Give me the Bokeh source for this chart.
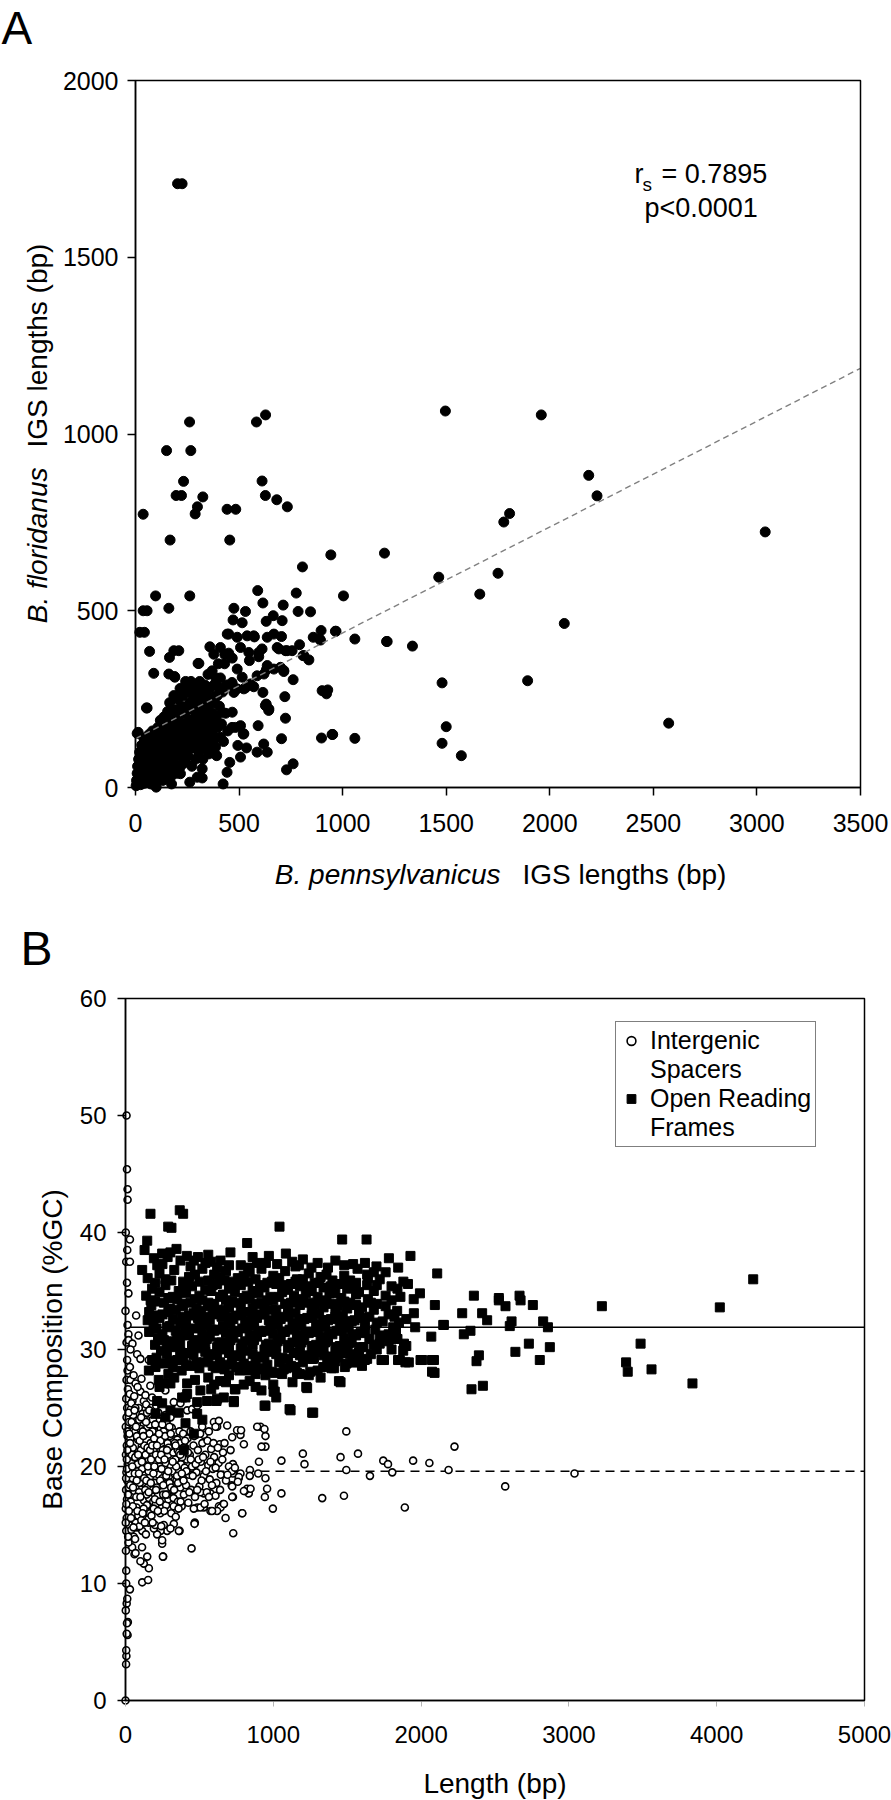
import math
from bokeh.plotting import figure
from bokeh.models import (Range1d, Label, Legend, LegendItem, FixedTicker, ColumnDataSource,
                          LinearAxis, BoxAnnotation)
from bokeh.layouts import column
from bokeh.embed import file_html
from bokeh.resources import INLINE

FONT = "Liberation Sans"

# ---------------- Panel A: IGS lengths (x = B. pennsylvanicus, y = B. floridanus), bp
igs_sparse = [
    (203, 1708), (225, 1708), (261, 1034), (584, 1034), (628, 1054), (1496, 1065), (1959, 1054),
    (150, 953), (267, 953), (232, 866), (196, 826), (222, 826), (325, 822), (299, 794), (288, 774), (37, 773),
    (442, 787), (484, 787), (611, 867), (627, 826), (682, 814), (733, 794),
    (167, 700), (455, 700), (806, 624), (943, 658), (1202, 663), (1464, 595),
    (97, 542), (262, 542), (590, 557), (776, 550), (1004, 542),
    (37, 500), (56, 500), (21, 439), (43, 439), (68, 385), (161, 507), (164, 368), (185, 387), (209, 387),
    (88, 323), (161, 321), (188, 314), (56, 225), (13, 156),
    (306, 351), (257, 277), (227, 277),
    (475, 507), (531, 498), (471, 474), (515, 466), (450, 434), (491, 425), (539, 429), (571, 429),
    (359, 398), (410, 396), (378, 377), (507, 396), (547, 382), (595, 382),
    (615, 522), (631, 470), (665, 486), (708, 472), (713, 516), (636, 425), (668, 434), (705, 427),
    (692, 392), (732, 387), (756, 387),
    (785, 498), (845, 497), (792, 404), (809, 373), (837, 361), (858, 425), (896, 444), (889, 420), (965, 442),
    (1059, 420), (1215, 413), (1337, 400), (1480, 296), (1500, 172), (1480, 125),
    (898, 140), (952, 150), (1059, 139), (901, 274), (922, 265), (928, 276),
    (721, 257), (761, 305), (724, 196), (705, 138), (729, 50), (761, 67),
    (615, 269), (631, 236), (644, 222), (592, 175), (619, 123), (636, 100), (587, 100), (507, 86), (536, 112),
    (483, 170), (520, 151), (494, 119),
    (455, 71), (442, 43), (423, 10), (322, 27), (262, 15), (174, 10), (169, 29), (100, 1),
    (467, 213), (418, 213), (378, 255), (402, 283), (466, 293), (475, 269), (523, 279), (555, 293), (587, 316),
    (636, 345), (668, 335), (620, 321), (700, 340), (716, 328), (515, 312), (491, 335),
    (2188, 883), (2228, 825), (1806, 775), (1778, 751), (1750, 606), (1662, 547), (2070, 464), (1893, 302),
    (2574, 182), (3040, 723), (1573, 90),
    (443, 434), (574, 426), (684, 396), (724, 387), (813, 373), (893, 417), (968, 442), (1212, 413),
    (431, 376), (467, 366), (550, 359), (611, 392), (595, 370), (632, 333), (716, 331), (571, 285), (531, 282),
    (490, 279), (466, 297), (643, 218), (627, 232), (949, 150), (523, 152), (507, 175), (466, 170), (410, 142),
    (370, 156), (386, 114), (330, 123), (354, 95), (322, 53), (298, 29), (241, 72), (217, 39), (169, 67),
    (121, 39), (72, 20), (40, 29), (8, 10), (53, 225), (8, 153), (190, 312), (302, 351),
]
igs_dense = [
    (3, 5), (5, 20), (8, 40), (10, 60), (12, 15), (15, 80), (18, 30), (20, 100), (22, 50), (25, 8),
    (28, 70), (30, 120), (32, 25), (35, 90), (38, 45), (40, 140), (42, 12), (45, 60), (48, 105), (50, 35),
    (52, 80), (55, 130), (58, 20), (60, 55), (62, 100), (65, 150), (68, 40), (70, 75), (72, 115), (75, 10),
    (78, 60), (80, 95), (82, 160), (85, 30), (88, 130), (90, 70), (92, 45), (95, 110), (98, 85), (100, 140),
    (102, 20), (105, 60), (108, 170), (110, 95), (112, 40), (115, 125), (118, 75), (120, 190), (122, 105), (125, 50),
    (128, 150), (130, 85), (132, 20), (135, 120), (138, 200), (140, 65), (142, 100), (145, 170), (148, 40), (150, 135),
    (152, 90), (155, 215), (158, 60), (160, 150), (162, 115), (165, 240), (168, 80), (170, 180), (172, 130), (175, 50),
    (178, 200), (180, 100), (182, 160), (185, 260), (188, 70), (190, 140), (192, 220), (195, 110), (198, 40), (200, 180),
    (202, 250), (205, 130), (208, 90), (210, 200), (212, 160), (215, 280), (218, 60), (220, 120), (222, 230), (225, 170),
    (228, 100), (230, 260), (232, 140), (235, 70), (238, 210), (240, 180), (242, 300), (245, 120), (248, 150), (250, 230),
    (252, 90), (255, 270), (258, 190), (260, 140), (262, 240), (265, 110), (268, 300), (270, 170), (272, 60), (275, 220),
    (278, 260), (280, 150), (282, 195), (285, 120), (288, 240), (290, 80), (292, 280), (295, 170), (298, 210), (300, 140),
    (302, 250), (305, 100), (308, 190), (310, 300), (312, 150), (315, 230), (318, 120), (320, 270), (322, 200), (325, 80),
    (328, 170), (330, 240), (332, 140), (335, 290), (338, 210), (340, 110), (342, 180), (345, 260), (348, 150), (350, 320),
    (352, 230), (355, 130), (358, 280), (360, 190), (362, 100), (365, 250), (368, 160), (370, 330), (372, 210), (375, 120),
    (378, 290), (380, 180), (382, 240), (385, 140), (388, 310), (390, 200), (392, 90), (395, 260), (398, 170), (400, 350),
    (405, 230), (410, 310), (415, 180), (420, 270), (425, 130), (430, 350), (435, 210), (440, 290), (445, 160), (450, 380),
]
igs_fit_intercept = 138.0
igs_fit_slope = 0.2994
rs_text = "= 0.7895"
p_text = "p<0.0001"
a_xticks = [0, 500, 1000, 1500, 2000, 2500, 3000, 3500]
a_yticks = [0, 500, 1000, 1500, 2000]

# ---------------- Panel B: base composition (%GC) vs length (bp)
spacer_sparse = [
    (0, 0), (4, 3.1), (6, 3.8), (5, 4.3), (14, 5.6), (8, 5.7), (16, 6.7), (10, 6.6), (2, 7.7), (8, 8.3),
    (12, 8.7), (30, 9.5), (5, 10.0), (5, 11.1), (7, 50.0), (10, 45.4), (14, 43.7), (14, 42.8), (2, 40.0),
    (30, 39.4), (12, 38.5), (5, 37.5), (30, 37.5), (10, 35.7), (20, 34.8), (0, 33.3), (72, 32.9), (14, 32.1),
    (20, 31.3), (88, 31.2), (7, 30.6), (20, 30.8), (47, 30.5), (34, 30.0), (79, 29.6), (101, 29.2), (214, 29.2),
    (158, 29.1), (11, 29.1), (14, 28.2), (30, 28.5), (7, 27.4), (34, 27.4), (68, 27.1), (101, 26.4), (124, 25.6),
    (135, 26.1), (180, 25.9), (225, 25.6), (270, 26.5), (327, 25.5), (372, 25.4), (417, 24.8), (451, 24.9), (485, 25.2),
    (113, 10.1), (153, 10.3), (158, 11.3), (124, 11.7), (147, 12.3), (255, 12.3), (248, 13.4), (248, 13.7),
    (447, 13.0), (729, 14.3), (677, 15.6), (789, 16.0), (997, 16.4), (1331, 17.3), (1478, 17.5), (1890, 16.5),
    (1055, 17.7), (943, 17.4), (958, 18.1), (947, 19.0), (898, 19.4), (842, 19.7), (903, 20.4), (1055, 20.5),
    (1200, 21.1), (1211, 20.2), (1455, 20.8), (1494, 19.7), (1573, 21.1), (1654, 19.2), (1744, 20.5), (1776, 20.2),
    (1805, 19.5), (1946, 20.5), (2056, 20.3), (1494, 23.0), (947, 21.7), (947, 22.6), (913, 23.4), (940, 23.2),
    (801, 21.9), (778, 22.7), (755, 23.1), (688, 23.5), (638, 21.9), (620, 23.4), (519, 23.4), (530, 22.7),
    (564, 23.0), (598, 23.8), (632, 23.9), (711, 21.4), (727, 20.2), (727, 19.4), (718, 18.4), (727, 17.4),
    (778, 19.4), (766, 19.0), (834, 17.7), (807, 17.9), (575, 17.7), (609, 17.5), (598, 18.5), (530, 17.7),
    (530, 16.5), (486, 16.5), (575, 16.2), (632, 16.6), (661, 16.8), (469, 15.2), (366, 14.5), (327, 15.1),
    (282, 14.5), (237, 14.5), (214, 14.2), (192, 14.7), (158, 15.2), (113, 14.5), (79, 14.8), (56, 14.0),
    (45, 13.1), (61, 12.5), (101, 11.9), (68, 12.6), (2226, 21.7), (2186, 19.7), (2569, 18.3), (3038, 19.4),
    (920, 21.7), (891, 23.4), (841, 19.2), (782, 23.1), (722, 22.5), (609, 23.4), (790, 16.0), (722, 17.4),
    (722, 18.3), (767, 19.1), (823, 18.1), (846, 18.1), (801, 17.9), (643, 16.5), (666, 16.8), (620, 16.2),
    (586, 16.2), (507, 17.8), (507, 16.5), (462, 16.4), (467, 15.1), (253, 12.3), (361, 14.5), (304, 14.7), (259, 15.0),
]
spacer_dense = [
    (3, 12.8), (5, 14.5), (8, 15.6), (2, 16.4), (10, 17.2), (4, 18.0), (12, 18.8), (6, 19.5), (15, 20.2), (3, 21.0),
    (9, 21.8), (14, 22.6), (2, 23.4), (7, 24.2), (11, 25.0), (5, 25.8), (16, 26.6), (20, 13.5), (25, 15.0), (28, 16.8),
    (22, 18.2), (30, 19.8), (26, 21.2), (33, 22.4), (24, 23.8), (36, 24.9), (29, 26.2), (40, 14.6), (45, 16.0), (42, 17.6),
    (48, 19.0), (38, 20.4), (50, 21.6), (44, 23.0), (52, 24.4), (47, 25.6), (55, 27.8), (58, 15.4), (60, 17.9), (57, 20.8),
    (62, 22.9), (59, 26.0), (65, 13.8), (70, 15.2), (75, 16.5), (68, 18.3), (80, 19.6), (72, 21.0), (85, 22.3), (78, 23.7),
    (90, 25.0), (82, 26.8), (95, 14.9), (100, 16.2), (92, 17.8), (105, 19.0), (98, 20.5), (110, 21.7), (103, 23.2), (115, 24.5),
    (108, 27.5), (120, 15.8), (125, 17.1), (118, 18.6), (130, 20.0), (122, 21.3), (135, 22.8), (128, 24.0), (140, 25.3), (133, 19.3),
    (145, 16.7), (150, 18.2), (143, 20.9), (148, 23.4), (138, 14.2), (112, 13.1), (155, 15.5), (160, 17.3), (165, 19.1), (158, 20.6),
    (170, 22.0), (163, 23.6), (175, 25.0), (168, 26.9), (180, 16.2), (185, 18.0), (178, 19.7), (190, 21.4), (183, 23.0), (195, 24.3),
    (188, 17.0), (200, 15.0), (205, 16.8), (198, 18.6), (210, 20.3), (203, 22.1), (215, 23.5), (208, 25.2), (220, 17.5), (225, 19.3),
    (218, 21.0), (230, 22.6), (223, 24.6), (235, 16.0), (240, 18.4), (233, 20.0), (245, 21.8), (238, 23.2), (250, 19.0), (247, 16.5),
    (242, 14.9), (255, 17.6), (260, 19.8), (265, 21.5), (258, 23.0), (270, 24.4), (275, 16.7), (280, 18.5), (272, 20.3), (285, 22.0),
    (278, 23.8), (290, 17.2), (295, 19.2), (288, 21.0), (300, 22.6), (305, 24.2), (310, 16.0), (315, 18.0), (308, 20.0), (320, 21.6),
    (313, 23.3), (325, 17.3), (330, 19.4), (323, 21.2), (335, 22.9), (340, 15.7), (345, 18.8), (338, 20.6), (350, 22.3), (355, 17.0),
    (360, 19.6), (353, 21.4), (365, 23.0), (370, 18.2), (375, 20.2), (368, 22.0), (380, 16.6), (385, 19.0), (378, 21.2), (390, 22.8),
    (395, 17.6), (400, 19.9), (405, 21.6), (410, 18.4), (415, 20.6), (420, 22.4), (425, 16.9), (430, 19.3), (435, 21.0), (440, 23.0),
    (445, 18.0), (450, 20.0), (460, 21.8), (470, 17.4), (480, 19.5), (490, 21.4), (500, 18.3), (510, 20.4), (520, 22.0), (530, 19.2),
    (540, 21.0), (550, 17.8), (560, 20.1), (570, 18.9), (580, 21.5), (590, 19.8), (600, 20.8), (615, 18.6), (630, 20.3), (645, 19.3),
    (660, 21.2), (680, 18.8), (700, 20.0), (720, 19.6), (740, 19.9), (760, 18.7),
]
spacer_dense2 = [
    (4, 19.0), (9, 20.6), (13, 23.0), (17, 17.6), (21, 24.6), (27, 19.4), (31, 22.0), (35, 17.0), (39, 25.4), (43, 21.0),
    (49, 16.6), (53, 23.6), (63, 19.4), (67, 25.0), (73, 17.4), (77, 22.6), (83, 20.2), (87, 15.8), (93, 24.0), (97, 18.6),
    (104, 21.4), (107, 15.4), (113, 19.8), (117, 23.0), (123, 16.4), (127, 21.8), (134, 18.0), (139, 23.8), (144, 17.6), (149, 21.6),
    (156, 19.6), (162, 22.8), (167, 16.0), (173, 20.6), (177, 24.4), (184, 15.2), (189, 19.4), (194, 22.4), (199, 17.2), (206, 21.0),
    (212, 18.2), (217, 24.0), (226, 20.6), (232, 17.0), (237, 22.2), (244, 19.8), (252, 21.4), (262, 16.2), (268, 22.6), (276, 19.2),
    (283, 17.6), (292, 21.6), (298, 18.6), (306, 22.8), (316, 19.6), (326, 16.6), (333, 22.0), (343, 20.0), (356, 18.6), (363, 21.2),
    (373, 17.0), (383, 20.8), (393, 18.8), (403, 22.2), (412, 19.6), (423, 21.2), (432, 17.8), (442, 20.6), (455, 19.2), (465, 22.6),
    (475, 20.2), (485, 18.0), (495, 20.6), (505, 22.8), (515, 18.8), (525, 20.8), (535, 16.8), (545, 19.6), (555, 22.2), (565, 17.4),
    (575, 20.4), (585, 18.4), (595, 22.0), (610, 19.9), (625, 21.6), (640, 18.0), (655, 20.6), (670, 22.0), (690, 19.3),
]
spacer_dense3 = [
    (2, 15.2), (6, 16.8), (10, 19.8), (13, 21.4), (18, 14.0), (23, 16.2), (26, 22.8), (32, 18.4), (37, 15.6), (41, 23.8),
    (46, 20.0), (51, 18.2), (54, 14.8), (61, 24.8), (66, 20.8), (71, 23.4), (76, 18.8), (81, 16.2), (86, 21.0), (91, 19.4),
    (96, 22.2), (101, 17.4), (106, 24.2), (111, 20.4), (116, 16.0), (121, 22.6), (126, 19.0), (131, 15.2), (136, 21.0), (141, 18.8),
    (146, 24.6), (152, 20.0), (157, 17.8), (161, 24.8), (166, 21.4), (171, 18.6), (176, 15.8), (181, 21.8), (186, 24.0), (191, 16.4),
    (196, 20.0), (201, 23.6), (207, 18.0), (213, 21.8), (219, 16.2), (227, 22.8), (234, 18.8), (241, 21.0), (249, 23.6), (256, 18.4),
    (264, 20.6), (273, 17.6), (281, 21.4), (289, 19.6), (297, 23.4), (309, 18.2), (319, 20.4), (329, 18.0), (339, 21.8), (349, 19.2),
    (359, 16.4), (371, 21.0), (381, 19.4), (391, 21.6),
]
orf_sparse = [
    (169, 41.6), (367, 41.9), (390, 41.6), (289, 40.5), (311, 40.4), (1042, 40.5), (823, 39.1), (1466, 39.4), (1631, 39.4),
    (147, 39.3), (129, 38.5), (113, 36.8), (192, 37.8), (248, 38.2), (304, 38.3), (372, 37.6), (462, 37.6), (541, 37.4),
    (643, 37.6), (710, 38.3), (970, 38.0), (1026, 37.3), (1128, 37.5), (1173, 37.2), (1258, 37.0), (1782, 37.8), (1928, 38.0),
    (1845, 37.0), (1698, 37.1), (1635, 36.4), (1635, 35.5), (2109, 36.5), (1911, 35.6), (1992, 34.8), (2093, 33.8), (1951, 33.1),
    (2150, 32.1), (2069, 31.1), (2087, 29.1), (2091, 28.0), (2007, 29.1), (1838, 33.3), (1811, 31.9), (1884, 30.5), (1879, 29.9),
    (1917, 28.9), (1856, 29.1), (1749, 29.1), (1635, 29.2), (1556, 28.9), (1495, 28.8), (1410, 28.4), (1365, 28.8), (1275, 29.3),
    (1229, 26.7), (1117, 24.8), (1270, 24.6), (1455, 27.2), (1010, 26.4), (941, 25.2), (740, 26.6), (733, 25.6), (616, 25.6),
    (507, 26.5), (417, 27.1), (406, 25.9), (304, 27.1), (248, 27.1), (203, 28.5), (180, 32.9),
    (947, 25.2), (1020, 25.9), (1002, 26.4), (1110, 24.9), (1263, 24.6), (1223, 26.8), (1444, 27.3), (2074, 28.1), (2074, 29.1),
    (1996, 29.1), (1894, 28.9), (1844, 29.1), (1732, 29.1), (1619, 29.1), (1536, 28.9), (1484, 28.5), (1394, 28.4), (1338, 28.5),
    (1270, 29.2), (1150, 28.5), (1060, 27.9), (947, 27.8), (880, 27.9), (744, 26.6), (733, 25.5), (665, 25.9), (620, 25.8),
    (552, 25.6), (485, 25.5), (417, 26.2), (383, 25.9), (462, 22.8), (406, 23.7), (394, 21.4), (485, 24.5), (270, 24.2),
    (304, 24.8), (248, 25.4), (214, 25.6), (203, 24.5), (180, 29.1), (158, 28.2), (225, 27.4),
    (4021, 33.6), (3223, 33.7), (3485, 30.5), (3387, 28.9), (3398, 28.1), (3559, 28.3), (3836, 27.1), (2526, 34.2), (2571, 33.7),
    (2673, 34.2), (2756, 33.8), (2278, 33.1), (2413, 33.1), (2447, 32.5), (2612, 32.4), (2600, 32.0), (2826, 32.4), (2858, 31.9),
    (2334, 31.6), (2289, 31.3), (2154, 32.1), (2729, 30.5), (2638, 29.8), (2871, 30.2), (2803, 29.1), (2391, 29.5), (2375, 29.0),
    (2418, 26.9), (2341, 26.6), (4247, 36.0), (2357, 34.6), (2526, 34.4), (2666, 34.6),
]
orf_dense = [
    (230, 36.5), (330, 36.8), (430, 36.2), (520, 36.9), (600, 36.4), (680, 36.7), (760, 36.1), (840, 36.6), (920, 36.9), (1000, 36.3),
    (1080, 36.7), (1160, 36.0), (1240, 36.5), (1320, 36.2), (1400, 35.9), (1480, 36.3), (1560, 35.7), (1720, 36.0), (1880, 35.8),
    (180, 35.2), (270, 35.5), (360, 35.0), (450, 35.4), (540, 35.1), (620, 35.6), (700, 35.2), (780, 35.5), (860, 35.0), (940, 35.3),
    (1020, 35.6), (1100, 35.1), (1180, 35.4), (1260, 35.0), (1340, 35.3), (1420, 34.8), (1500, 35.2), (1580, 34.9), (1680, 35.0),
    (1760, 34.6), (1950, 34.3), (200, 34.1), (290, 34.4), (380, 33.9), (470, 34.3), (560, 34.0), (640, 34.5), (720, 34.1), (800, 34.4),
    (880, 33.9), (960, 34.2), (1040, 34.5), (1120, 34.0), (1200, 34.3), (1280, 33.8), (1360, 34.1), (1440, 33.7), (1520, 34.0),
    (1600, 33.6), (1700, 33.9), (1800, 34.2), (160, 33.2), (250, 33.0), (340, 33.4), (430, 32.9), (510, 33.3), (590, 33.0), (670, 33.4),
    (750, 32.9), (830, 33.2), (910, 33.0), (990, 33.4), (1070, 32.8), (1150, 33.1), (1230, 32.7), (1310, 33.0), (1390, 32.6),
    (1470, 32.9), (1550, 32.5), (1650, 32.8), (1740, 32.4), (1900, 32.6), (190, 32.2), (280, 31.9), (370, 32.3), (460, 31.8),
    (550, 32.1), (630, 31.7), (710, 32.2), (790, 31.8), (870, 32.0), (950, 31.6), (1030, 32.1), (1110, 31.7), (1190, 32.0),
    (1270, 31.5), (1350, 31.9), (1430, 31.6), (1510, 31.8), (1590, 31.4), (1690, 31.7), (1780, 31.3), (1960, 31.9), (220, 31.0),
    (310, 30.7), (400, 31.2), (490, 30.8), (570, 31.1), (650, 30.6), (730, 31.0), (810, 30.7), (890, 31.1), (970, 30.5), (1050, 30.9),
    (1130, 30.6), (1210, 30.8), (1290, 30.4), (1370, 30.7), (1450, 30.3), (1530, 30.6), (1610, 30.2), (1720, 30.5), (1840, 30.9),
    (240, 29.9), (330, 30.2), (420, 29.7), (500, 30.1), (580, 29.6), (660, 30.0), (740, 29.5), (820, 29.9), (900, 29.4), (980, 29.8),
    (1060, 29.3), (1140, 29.7), (1220, 29.5), (1300, 29.8), (1380, 29.4), (1460, 29.7), (1540, 29.4), (1660, 29.6), (1800, 30.0),
    (260, 28.8), (350, 29.1), (440, 28.6), (530, 28.9), (610, 28.4), (690, 28.7), (770, 28.2), (850, 28.6), (930, 28.3), (1010, 28.0),
    (1090, 28.4), (1180, 27.9), (1320, 27.6), (290, 27.9), (380, 28.2), (560, 27.6), (640, 27.3), (800, 27.0), (880, 26.8), (1000, 27.0),
    (215, 37.2), (285, 37.9), (345, 38.6), (415, 38.0), (490, 37.9), (560, 38.1), (620, 37.0), (780, 37.2), (860, 37.9), (890, 37.4),
    (1085, 38.2), (1200, 37.7), (1300, 37.4), (1420, 37.6), (1540, 37.3), (1570, 36.9), (1680, 36.6), (1760, 36.6),
]
orf_dense2 = [
    (150, 36.1), (270, 36.0), (390, 35.8), (470, 36.4), (560, 35.9), (640, 36.2), (720, 35.8), (800, 36.3), (880, 36.0), (960, 35.7),
    (1040, 36.1), (1120, 35.6), (1200, 36.0), (1280, 35.7), (1360, 36.4), (1440, 35.6), (1520, 35.9), (1640, 36.1), (1800, 35.4),
    (140, 34.6), (230, 34.9), (320, 34.5), (410, 34.8), (500, 34.6), (580, 35.0), (660, 34.7), (740, 34.9), (820, 34.6), (900, 34.8),
    (980, 34.5), (1060, 34.9), (1140, 34.6), (1220, 34.8), (1300, 34.5), (1380, 34.8), (1460, 34.4), (1560, 34.7), (1640, 34.3), (1860, 34.5),
    (175, 33.8), (300, 33.5), (390, 33.7), (480, 33.5), (560, 33.7), (620, 33.4), (700, 33.6), (780, 33.8), (860, 33.5), (940, 33.7),
    (1020, 33.4), (1100, 33.6), (1180, 33.8), (1260, 33.4), (1340, 33.6), (1420, 33.3), (1500, 33.5), (1580, 33.2), (1680, 33.4), (1780, 33.0),
    (150, 32.5), (230, 32.7), (320, 32.6), (410, 32.4), (490, 32.7), (570, 32.5), (650, 32.8), (730, 32.6), (810, 32.4), (890, 32.7),
    (970, 32.5), (1050, 32.6), (1130, 32.3), (1210, 32.6), (1290, 32.2), (1370, 32.5), (1450, 32.2), (1530, 32.4), (1620, 32.1), (1850, 32.3),
    (160, 31.5), (250, 31.3), (340, 31.6), (430, 31.4), (520, 31.3), (600, 31.6), (680, 31.4), (760, 31.5), (840, 31.2), (920, 31.5),
    (1000, 31.3), (1080, 31.5), (1160, 31.2), (1240, 31.4), (1320, 31.1), (1400, 31.3), (1480, 31.0), (1560, 31.2), (1650, 30.9), (1750, 31.1),
    (200, 30.4), (280, 30.2), (370, 30.5), (450, 30.3), (540, 30.4), (620, 30.2), (700, 30.4), (780, 30.1), (860, 30.4), (940, 30.0),
    (1020, 30.3), (1100, 30.1), (1180, 30.3), (1260, 30.0), (1340, 30.2), (1420, 29.9), (1500, 30.1), (1580, 29.8), (1700, 30.0), (1900, 30.3),
    (210, 29.3), (300, 29.0), (390, 29.2), (480, 28.9), (560, 29.2), (640, 28.9), (720, 29.1), (800, 28.8), (880, 29.0), (960, 28.7),
    (1040, 28.9), (1120, 28.6), (1200, 28.9), (1250, 28.1), (1420, 29.0), (1600, 28.6),
    (230, 26.8), (330, 27.6), (470, 27.4), (600, 27.0), (700, 27.8), (840, 27.3), (920, 26.5), (1130, 27.2), (520, 24.0), (360, 24.6),
    (580, 26.6), (680, 27.2),
]
orf_dense3 = [
    (250, 37.3), (440, 37.1), (580, 37.5), (700, 37.2), (830, 37.0), (950, 37.4), (1150, 37.1), (1370, 37.0), (1480, 37.2), (1620, 37.4),
    (200, 35.7), (310, 35.9), (410, 35.6), (500, 35.8), (590, 35.5), (670, 35.9), (750, 35.6), (830, 35.8), (910, 35.5), (990, 35.8),
    (1070, 35.5), (1150, 35.8), (1230, 35.4), (1310, 35.7), (1390, 35.4), (1470, 35.6), (1550, 35.3), (1700, 35.5), (1840, 35.2),
    (170, 34.2), (260, 34.0), (350, 34.3), (440, 34.0), (520, 34.2), (600, 33.9), (680, 34.2), (760, 34.0), (840, 34.3), (920, 34.0),
    (1000, 34.2), (1080, 33.9), (1160, 34.2), (1240, 34.0), (1320, 34.2), (1400, 33.9), (1480, 34.1), (1560, 33.8), (1660, 34.0), (1760, 33.7),
    (200, 32.9), (290, 33.2), (380, 32.8), (460, 33.1), (540, 32.8), (620, 33.1), (700, 32.8), (780, 33.0), (860, 32.7), (940, 33.0),
    (1020, 32.7), (1100, 33.0), (1180, 32.6), (1260, 32.9), (1340, 32.5), (1420, 32.8), (1500, 32.4), (1600, 32.7), (1700, 32.3), (1820, 32.8),
    (210, 31.8), (300, 32.0), (400, 31.7), (500, 32.0), (580, 31.7), (660, 32.0), (740, 31.6), (820, 31.9), (900, 31.6), (980, 31.9),
    (1060, 31.5), (1140, 31.8), (1220, 31.5), (1300, 31.8), (1380, 31.4), (1460, 31.7), (1540, 31.3), (1620, 31.6), (1720, 31.2), (1830, 31.6),
    (260, 30.8), (350, 30.9), (460, 30.7), (550, 30.9), (630, 30.6), (710, 30.8), (790, 30.5), (870, 30.8), (950, 30.4), (1030, 30.7),
    (1110, 30.4), (1190, 30.6), (1270, 30.3), (1350, 30.6), (1430, 30.2), (1510, 30.5), (1590, 30.2), (1680, 30.4), (1780, 30.7),
    (280, 29.6), (370, 29.8), (460, 29.5), (540, 29.8), (620, 29.5), (700, 29.7), (780, 29.4), (860, 29.6), (940, 29.3), (1020, 29.6),
    (1100, 29.2), (1180, 29.5), (1260, 29.2), (1340, 29.5), (1440, 29.3), (1520, 29.6), (1580, 29.1),
    (320, 28.5), (410, 28.7), (500, 28.4), (590, 28.6), (670, 28.3), (750, 28.5), (830, 28.2), (910, 28.4), (990, 28.1), (1070, 28.3),
    (1160, 28.0), (1240, 27.8), (1300, 28.2),
]
orf_mean_gc = 31.9
spacer_mean_gc = 19.6
b_xticks = [0, 1000, 2000, 3000, 4000, 5000]
b_yticks = [0, 10, 20, 30, 40, 50, 60]


# ---- page-pixel -> data helpers (each figure's frame covers its whole 891x900 canvas)
def ax_(px):
    return (px - 135) * 3500.0 / 725.0


def ay_(py):
    return (787 - py) * 2000.0 / 707.0


def bx_(px):
    return (px - 125) * 5000.0 / 739.0


def by_(py):
    return (1700 - py) * 60.0 / 702.0


def make_axis(p, side, loc, bounds, ticks, tick_size, standoff, tick_color="black", tick_width=1.5, tick_out=8):
    ax = LinearAxis(fixed_location=loc, bounds=bounds, ticker=FixedTicker(ticks=ticks))
    ax.axis_line_color = "black"
    ax.axis_line_width = 1.5
    ax.major_tick_line_color = tick_color
    ax.major_tick_line_width = tick_width
    ax.major_tick_out = tick_out
    ax.major_tick_in = 0
    ax.minor_tick_line_color = None
    ax.major_label_text_font = FONT
    ax.major_label_text_font_size = tick_size
    ax.major_label_text_color = "black"
    ax.major_label_standoff = standoff
    p.add_layout(ax, side)
    return ax


def base_fig(xr, yr):
    p = figure(width=891, height=900, output_backend="svg", toolbar_location=None,
               x_range=Range1d(*xr), y_range=Range1d(*yr),
               x_axis_location=None, y_axis_location=None,
               min_border=0, min_border_left=0, min_border_right=0, min_border_top=0, min_border_bottom=0,
               background_fill_color="white", border_fill_color="white")
    p.outline_line_color = None
    p.title.visible = False
    for g in p.grid:
        g.visible = False
    return p


def lab(p, x, y, text, size, **kw):
    l = Label(x=x, y=y, text=text, text_font=FONT, text_font_size=size, text_color="black",
              text_baseline="middle", **kw)
    p.add_layout(l)
    return l


def frame_box(p, x0, x1, y0, y1):
    p.add_layout(BoxAnnotation(left=x0, right=x1, bottom=y0, top=y1, fill_alpha=0,
                               line_color="black", line_alpha=1.0, line_width=1.5))


# ================= Panel A
pA = base_fig((ax_(0), ax_(891)), (ay_(900), ay_(0)))
make_axis(pA, "below", 0, (0, 3500), a_xticks, "25px", 18)
make_axis(pA, "left", 0, (0, 2000), a_yticks, "25px", 9)
frame_box(pA, 0, 3500, 0, 2000)

igs_all = igs_sparse + igs_dense
srcA = ColumnDataSource(dict(x=[a for a, b in igs_all], y=[b for a, b in igs_all]))
pA.scatter("x", "y", source=srcA, marker="circle", size=10, color="black")
fit_x = [0, 3500]
pA.line(fit_x, [igs_fit_intercept + igs_fit_slope * v for v in fit_x],
        line_color="#808080", line_width=1.4, line_dash="6 4")

lab(pA, ax_(1), ay_(27), "A", "46px")
lab(pA, ax_(37), ay_(447), "IGS lengths (bp)", "28px", angle=math.pi / 2, text_align="left")
lab(pA, ax_(37), ay_(467), "B. floridanus", "28px", angle=math.pi / 2, text_align="right", text_font_style="italic")
lab(pA, ax_(500), ay_(874), "B. pennsylvanicus", "28px", text_align="right", text_font_style="italic")
lab(pA, ax_(522), ay_(874), "IGS lengths (bp)", "28px", text_align="left")
lab(pA, ax_(634), ay_(173.5), "r", "27px")
lab(pA, ax_(642), ay_(184), "s", "19px")
lab(pA, ax_(661), ay_(173.5), rs_text, "27px")
lab(pA, ax_(644), ay_(207), p_text, "27px")

# ================= Panel B
pB = base_fig((bx_(0), bx_(891)), (by_(1800), by_(900)))
make_axis(pB, "below", 0, (0, 5000), b_xticks, "24px", 19, tick_color="#b5b5b5", tick_width=1, tick_out=6)
make_axis(pB, "left", 0, (0, 60), b_yticks, "24px", 11)
frame_box(pB, 0, 5000, 0, 60)

mean_x = [0, 5000]
pB.line(mean_x, [orf_mean_gc] * 2, line_color="black", line_width=1.5)
pB.line(mean_x, [spacer_mean_gc] * 2, line_color="black", line_width=1.5, line_dash="9 6")

sp_all = spacer_sparse + spacer_dense + spacer_dense2 + spacer_dense3
orf_all = orf_sparse + orf_dense + orf_dense2 + orf_dense3
srcS = ColumnDataSource(dict(x=[a for a, b in sp_all], y=[b for a, b in sp_all]))
srcO = ColumnDataSource(dict(x=[a for a, b in orf_all], y=[b for a, b in orf_all]))
r_sp = pB.scatter("x", "y", source=srcS, marker="circle", size=7, fill_color="white", line_color="black", line_width=1.6)
r_orf = pB.scatter("x", "y", source=srcO, marker="square", size=9, color="black")
r_blank = pB.scatter(x=[], y=[], marker="circle", fill_alpha=0, line_alpha=0)

lab(pB, bx_(20), by_(947.5), "B", "48px")
lab(pB, bx_(494.5), by_(1782.5), "Length (bp)", "28px", text_align="center")
lab(pB, bx_(52), by_(1349), "Base Composition (%GC)", "28px", angle=math.pi / 2, text_align="center")

legend = Legend(items=[LegendItem(label="Intergenic", renderers=[r_sp]),
                       LegendItem(label="Spacers", renderers=[r_blank]),
                       LegendItem(label="Open Reading", renderers=[r_orf]),
                       LegendItem(label="Frames", renderers=[r_blank])],
                location=(615, 900 - (1147 - 900)))
legend.label_text_font = FONT
legend.label_text_font_size = "25px"
legend.label_text_color = "black"
legend.label_height = 27
legend.glyph_height = 27
legend.glyph_width = 22
legend.label_standoff = 8
legend.border_line_color = "black"
legend.border_line_width = 1.5
legend.padding = 4
legend.spacing = 0
legend.margin = 0
legend.background_fill_color = "white"
legend.background_fill_alpha = 1.0
pB.add_layout(legend)

layout = column(pA, pB, spacing=0)
open("out.html", "w").write(file_html(layout, INLINE))
